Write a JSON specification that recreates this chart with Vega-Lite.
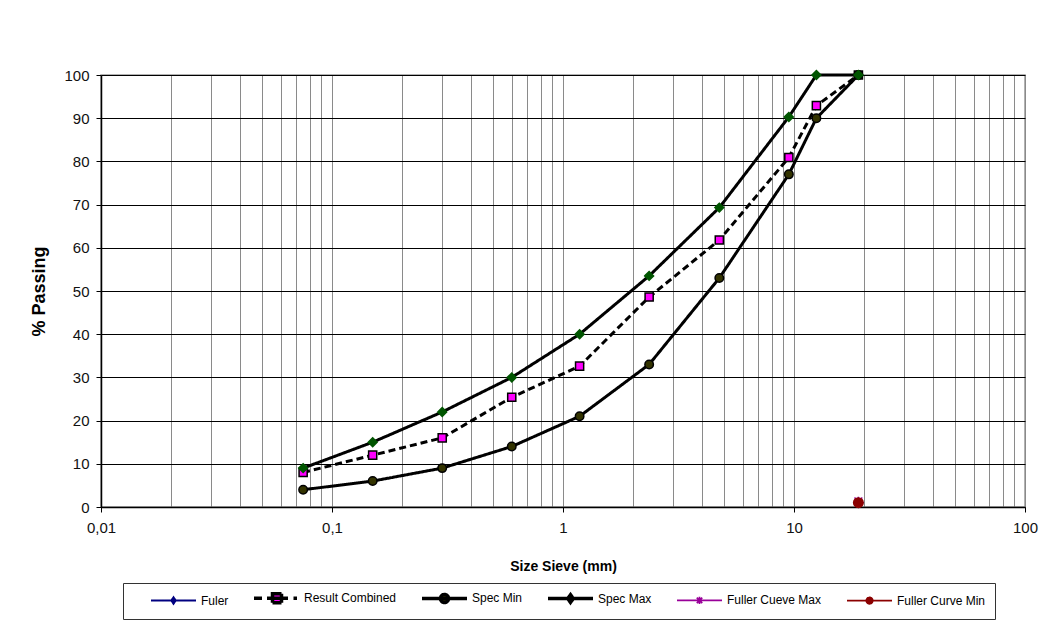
{
  "$schema": "https://vega.github.io/schema/vega-lite/v6.json",
  "width": 924,
  "height": 432,
  "autosize": {"type": "none"},
  "padding": {"left": 101, "top": 75, "right": 34, "bottom": 117},
  "background": "white",
  "config": {
    "font": "Liberation Sans",
    "view": {"stroke": "#999999", "strokeWidth": 1.5},
    "axis": {"labelFont": "Liberation Sans", "titleFont": "Liberation Sans", "labelColor": "#111", "titleColor": "#000"}
  },
  "data": {
    "values": [
      {"series": "Fuler", "sieve": 19, "pass": 1},
      {"series": "Result Combined", "sieve": 0.075, "pass": 8},
      {"series": "Result Combined", "sieve": 0.15, "pass": 12},
      {"series": "Result Combined", "sieve": 0.3, "pass": 16},
      {"series": "Result Combined", "sieve": 0.6, "pass": 25.4},
      {"series": "Result Combined", "sieve": 1.18, "pass": 32.6},
      {"series": "Result Combined", "sieve": 2.36, "pass": 48.6},
      {"series": "Result Combined", "sieve": 4.75, "pass": 61.8},
      {"series": "Result Combined", "sieve": 9.5, "pass": 80.9},
      {"series": "Result Combined", "sieve": 12.5, "pass": 92.9},
      {"series": "Result Combined", "sieve": 19, "pass": 100},
      {"series": "Spec Min", "sieve": 0.075, "pass": 4},
      {"series": "Spec Min", "sieve": 0.15, "pass": 6},
      {"series": "Spec Min", "sieve": 0.3, "pass": 9},
      {"series": "Spec Min", "sieve": 0.6, "pass": 14},
      {"series": "Spec Min", "sieve": 1.18, "pass": 21},
      {"series": "Spec Min", "sieve": 2.36, "pass": 33},
      {"series": "Spec Min", "sieve": 4.75, "pass": 53},
      {"series": "Spec Min", "sieve": 9.5, "pass": 77},
      {"series": "Spec Min", "sieve": 12.5, "pass": 90},
      {"series": "Spec Min", "sieve": 19, "pass": 100},
      {"series": "Spec Max", "sieve": 0.075, "pass": 9},
      {"series": "Spec Max", "sieve": 0.15, "pass": 15},
      {"series": "Spec Max", "sieve": 0.3, "pass": 22},
      {"series": "Spec Max", "sieve": 0.6, "pass": 30},
      {"series": "Spec Max", "sieve": 1.18, "pass": 40},
      {"series": "Spec Max", "sieve": 2.36, "pass": 53.5},
      {"series": "Spec Max", "sieve": 4.75, "pass": 69.3},
      {"series": "Spec Max", "sieve": 9.5, "pass": 90.3},
      {"series": "Spec Max", "sieve": 12.5, "pass": 100},
      {"series": "Spec Max", "sieve": 19, "pass": 100},
      {"series": "Fuller Cueve Max", "sieve": 19, "pass": 1.3},
      {"series": "Fuller Curve Min", "sieve": 19, "pass": 1}
    ]
  },
  "encoding": {
    "x": {
      "field": "sieve", "type": "quantitative",
      "scale": {"type": "log", "domain": [0.01, 100], "nice": false},
      "axis": {
        "title": "Size Sieve (mm)",
        "titleFontSize": 14, "titleFontWeight": "bold", "titlePadding": 24,
        "labelFontSize": 15, "labelPadding": 8, "labelOverlap": false, "labelFlush": false,
        "values": [0.01,0.02,0.03,0.04,0.05,0.06,0.07,0.08,0.09,0.1,0.2,0.3,0.4,0.5,0.6,0.7,0.8,0.9,1,2,3,4,5,6,7,8,9,10,20,30,40,50,60,70,80,90,100],
        "labelExpr": "indexof([0.01,0.1,1,10,100], datum.value) >= 0 ? replace(toString(datum.value), '.', ',') : ''",
        "grid": true, "gridColor": "#8a8a8a", "gridWidth": 1,
        "tickColor": "#000", "tickSize": 5,
        "tickOpacity": {"condition": {"test": "indexof([0.01,0.1,1,10,100], datum.value) >= 0", "value": 1}, "value": 0},
        "domainColor": "#000", "domainWidth": 1.5
      }
    },
    "y": {
      "field": "pass", "type": "quantitative",
      "scale": {"domain": [0, 100], "nice": false},
      "axis": {
        "title": "% Passing",
        "titleFontSize": 18, "titleFontWeight": "bold", "titlePadding": 15,
        "labelFontSize": 15, "labelPadding": 7,
        "values": [0,10,20,30,40,50,60,70,80,90,100],
        "grid": true, "gridColor": "#000", "gridWidth": 1,
        "tickColor": "#000", "tickSize": 5,
        "domainColor": "#000", "domainWidth": 1.5
      }
    }
  },
  "layer": [
    {
      "mark": {"type": "line", "strokeWidth": 3},
      "encoding": {
        "color": {
          "field": "series", "type": "nominal",
          "scale": {
            "domain": ["Fuler", "Result Combined", "Spec Min", "Spec Max", "Fuller Cueve Max", "Fuller Curve Min"],
            "range": ["#000080", "#000000", "#000000", "#000000", "#990099", "#8b0000"]
          },
          "legend": {
            "title": null,
            "orient": "none",
            "legendX": 22,
            "legendY": 508,
            "direction": "horizontal",
            "columns": 6,
            "columnPadding": 6,
            "padding": 9,
            "strokeColor": "#333",
            "fillColor": "white",
            "symbolSize": 2025,
            "symbolStrokeWidth": 3,
            "labelOffset": 57,
            "labelFontSize": 12,
            "labelFont": "Liberation Sans",
            "labelColor": "#000",
            "labelLimit": 200,
            "encode": {
              "symbols": {
                "update": {
                  "size": {"value": 2025},
                  "shape": {"signal": "datum.value === 'Fuler' ? 'M0.578,0H2.578M1.578,-0.15L1.68,0L1.578,0.15L1.476,0Z' : datum.value === 'Result Combined' ? 'M0.578,0H0.933M1.156,0H2.089M2.333,0H2.489M1.4,-0.2H1.8V0.2H1.4Z' : datum.value === 'Spec Min' ? 'M0.578,0H2.578M1.398,0A0.18,0.18 0 1,0 1.758,0A0.18,0.18 0 1,0 1.398,0Z' : datum.value === 'Spec Max' ? 'M0.578,0H2.578M1.578,-0.17L1.7,0L1.578,0.17L1.456,0Z' : datum.value === 'Fuller Cueve Max' ? 'M0.578,0H2.578M1.458,-0.12L1.698,0.12M1.458,0.12L1.698,-0.12M1.578,-0.16V0.16' : 'M0.578,0H2.578M1.438,0A0.14,0.14 0 1,0 1.718,0A0.14,0.14 0 1,0 1.438,0Z'"},
                  "fill": {"signal": "datum.value === 'Fuler' ? '#000080' : datum.value === 'Result Combined' ? '#ff00ff' : datum.value === 'Spec Min' ? '#333300' : datum.value === 'Spec Max' ? '#006000' : datum.value === 'Fuller Cueve Max' ? 'transparent' : '#8b0000'"},
                  "stroke": {"signal": "datum.value === 'Fuler' ? '#000080' : datum.value === 'Fuller Cueve Max' ? '#990099' : datum.value === 'Fuller Curve Min' ? '#8b0000' : '#000000'"},
                  "strokeWidth": {"signal": "datum.value === 'Fuler' || datum.value === 'Fuller Cueve Max' || datum.value === 'Fuller Curve Min' ? 1.8 : 3.5"},
                  "strokeDash": {"value": [1, 0]},
                  "opacity": {"value": 1}
                }
              }
            }
          }
        },
        "strokeDash": {
          "field": "series", "type": "nominal",
          "scale": {
            "domain": ["Result Combined", "Fuler", "Spec Min", "Spec Max", "Fuller Cueve Max", "Fuller Curve Min"],
            "range": [[7, 4], [1, 0], [1, 0], [1, 0], [1, 0], [1, 0]]
          },
          "legend": null
        }
      }
    },
    {
      "mark": {"type": "point", "filled": true, "strokeWidth": 1.5, "opacity": 1},
      "encoding": {
        "shape": {
          "field": "series", "type": "nominal",
          "scale": {
            "domain": ["Spec Max", "Result Combined", "Spec Min", "Fuler", "Fuller Cueve Max", "Fuller Curve Min"],
            "range": ["diamond", "square", "circle", "diamond", "M-1,-1L1,1M-1,1L1,-1M0,-1.2V1.2", "circle"]
          },
          "legend": null
        },
        "fill": {
          "field": "series", "type": "nominal",
          "scale": {
            "domain": ["Spec Min", "Result Combined", "Fuler", "Spec Max", "Fuller Cueve Max", "Fuller Curve Min"],
            "range": ["#333300", "#ff00ff", "#000080", "#005500", "transparent", "#8b0000"]
          },
          "legend": null
        },
        "stroke": {
          "field": "series", "type": "nominal",
          "scale": {
            "domain": ["Fuller Curve Min", "Result Combined", "Spec Min", "Spec Max", "Fuller Cueve Max", "Fuler"],
            "range": ["#8b0000", "#000000", "#000000", "#005500", "#990099", "#000080"]
          },
          "legend": null
        },
        "size": {
          "field": "series", "type": "nominal",
          "scale": {
            "domain": ["Fuller Cueve Max", "Result Combined", "Spec Min", "Spec Max", "Fuler", "Fuller Curve Min"],
            "range": [60, 90, 100, 95, 50, 100]
          },
          "legend": null
        }
      }
    }
  ]
}
